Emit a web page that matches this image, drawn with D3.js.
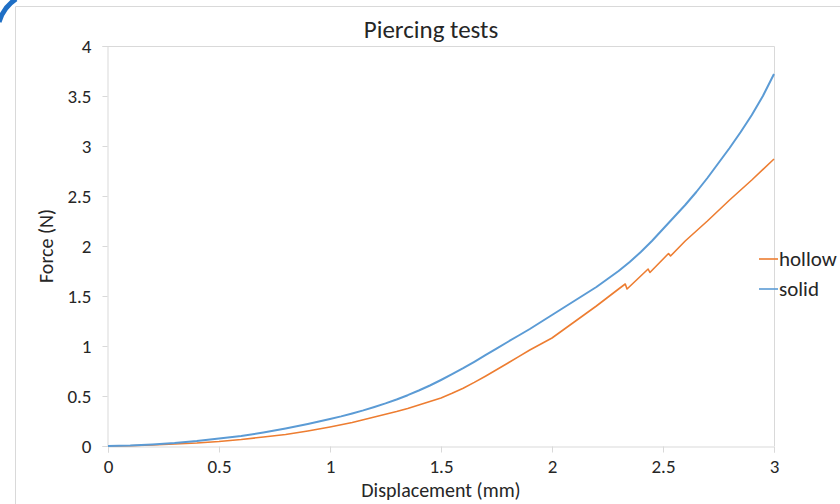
<!DOCTYPE html>
<html>
<head>
<meta charset="utf-8">
<script src="https://cdn.jsdelivr.net/npm/d3@7"></script>
<style>
  body { margin: 0; background: #fff; }
  svg { display: block; }
  text { font-family: Calibri, Carlito, "Open Sans", sans-serif; fill: #262626; }
</style>
</head>
<body>
<div id="viz"></div>
<script>
const LAYOUT = {
  width: 840,
  height: 504,
  margins: { left: 108, right: 66, top: 46, bottom: 58 }
}

const series_names = ['hollow', 'solid'];
const series_colors = { hollow: '#ED7D31', solid: '#5B9BD5' };

// displacement (mm), force (N)
const hollow_x = [0, 0.1, 0.2, 0.3, 0.4, 0.5, 0.6, 0.7, 0.8, 0.85, 0.9, 0.95, 1.0, 1.05, 1.1, 1.15, 1.2, 1.25,
                  1.3, 1.35, 1.4, 1.45, 1.5, 1.55, 1.6, 1.65, 1.7, 1.75, 1.8, 1.85, 1.9, 1.95, 2.0,
                  2.05, 2.1, 2.15, 2.2, 2.25, 2.3, 2.33, 2.338, 2.433, 2.441, 2.525, 2.534,
                  2.6, 2.7, 2.8, 2.9, 3.0];
const hollow_y = [0, 0.003, 0.01, 0.02, 0.03, 0.045, 0.065, 0.09, 0.115, 0.132, 0.15, 0.17, 0.19, 0.212, 0.235, 0.262, 0.29, 0.317,
                  0.345, 0.376, 0.41, 0.444, 0.48, 0.527, 0.578, 0.636, 0.698, 0.762, 0.828, 0.894, 0.96, 1.02, 1.08,
                  1.16, 1.24, 1.32, 1.40, 1.485, 1.57, 1.62, 1.57, 1.77, 1.735, 1.925, 1.90,
                  2.05, 2.25, 2.46, 2.66, 2.87];

const solid_x = [0, 0.1, 0.2, 0.3, 0.4, 0.5, 0.6, 0.7, 0.8, 0.85, 0.9, 0.95, 1.0, 1.05, 1.1, 1.15, 1.2, 1.25,
                 1.3, 1.35, 1.4, 1.45, 1.5, 1.55, 1.6, 1.65, 1.7, 1.75, 1.8, 1.85, 1.9, 1.95, 2.0,
                 2.05, 2.1, 2.15, 2.2, 2.25, 2.3, 2.35, 2.4, 2.45, 2.5, 2.55, 2.6, 2.65, 2.7, 2.75,
                 2.8, 2.85, 2.9, 2.95, 3.0];
const solid_y = [0, 0.005, 0.016, 0.03, 0.05, 0.075, 0.10, 0.135, 0.175, 0.197, 0.22, 0.244, 0.27, 0.296, 0.325, 0.356, 0.39, 0.426,
                 0.465, 0.508, 0.555, 0.605, 0.66, 0.718, 0.778, 0.842, 0.908, 0.974, 1.04, 1.105, 1.17, 1.24, 1.31,
                 1.38, 1.45, 1.52, 1.59, 1.67, 1.75, 1.84, 1.94, 2.05, 2.17, 2.29, 2.41, 2.54, 2.68, 2.83,
                 2.98, 3.14, 3.31, 3.50, 3.72];

const x_ticks = [0, 0.5, 1, 1.5, 2, 2.5, 3];
const y_ticks = [0, 0.5, 1, 1.5, 2, 2.5, 3, 3.5, 4];

const title = 'Piercing tests';
const x_title = 'Displacement (mm)';
const y_title = 'Force (N)';

const data = {
  hollow: hollow_x.map((x, i) => ({ x: x, y: hollow_y[i] })),
  solid: solid_x.map((x, i) => ({ x: x, y: solid_y[i] }))
};

const svg = d3.select('#viz').append('svg')
  .attr('width', LAYOUT.width)
  .attr('height', LAYOUT.height);

// outer chart frame
svg.append('path')
  .attr('d', `M15.5,${LAYOUT.height} V6.5 H${LAYOUT.width}`)
  .attr('fill', 'none')
  .attr('stroke', '#d9d9d9')
  .attr('stroke-width', 1);

// blue corner mark top-left
svg.append('path')
  .attr('d', 'M-1,22 A42,42 0 0 1 16,-1')
  .attr('fill', 'none')
  .attr('stroke', '#1f6fc5')
  .attr('stroke-width', 5);

const m = LAYOUT.margins;
const x = d3.scaleLinear().domain([0, 3]).range([m.left, LAYOUT.width - m.right]);
const y = d3.scaleLinear().domain([0, 4]).range([LAYOUT.height - m.bottom, m.top]);

// plot area border top / right
svg.append('path')
  .attr('d', `M${x(0)},${y(4) + 0.5} H${x(3) + 0.5} V${y(0)}`)
  .attr('fill', 'none')
  .attr('stroke', '#d9d9d9');

const xAxis = svg.append('g')
  .attr('transform', `translate(0,${y(0) + 0.5})`)
  .call(d3.axisBottom(x).tickValues(x_ticks).tickSize(6).tickPadding(7).tickFormat(d3.format('')));

const yAxis = svg.append('g')
  .attr('transform', `translate(${x(0) - 0.5},0)`)
  .call(d3.axisLeft(y).tickValues(y_ticks).tickSize(5).tickPadding(11).tickFormat(d3.format('')));

[xAxis, yAxis].forEach(g => {
  g.select('.domain').attr('stroke', '#d9d9d9');
  g.selectAll('.tick line').attr('stroke', '#d9d9d9');
  g.selectAll('.tick text')
    .attr('fill', '#262626')
    .style('font-size', '19px')
    .style('font-family', 'Calibri, Carlito, "Open Sans", sans-serif');
});

const line = d3.line()
  .x(d => x(d.x))
  .y(d => y(d.y));

series_names.forEach(name => {
  svg.append('path')
    .datum(data[name])
    .attr('fill', 'none')
    .attr('stroke', series_colors[name])
    .attr('stroke-width', name == 'solid' ? 2 : 1.6)
    .attr('stroke-linejoin', 'round')
    .attr('d', line);
});

// title and axis titles
svg.append('text')
  .attr('x', 431)
  .attr('y', 38)
  .attr('text-anchor', 'middle')
  .style('font-size', '25px')
  .text(title);

svg.append('text')
  .attr('x', (x(0) + x(3)) / 2)
  .attr('y', 497)
  .attr('text-anchor', 'middle')
  .style('font-size', '20px')
  .text(x_title);

svg.append('text')
  .attr('transform', `translate(53,${(y(0) + y(4)) / 2}) rotate(-90)`)
  .attr('text-anchor', 'middle')
  .style('font-size', '20px')
  .text(y_title);

// legend
const legend = svg.append('g').attr('transform', 'translate(759,259)');
series_names.forEach((name, i) => {
  const g = legend.append('g').attr('transform', `translate(0,${i * 30})`);
  g.append('line')
    .attr('x1', 0).attr('x2', 19)
    .attr('stroke', series_colors[name])
    .attr('stroke-width', 1.6);
  g.append('text')
    .attr('x', 20)
    .attr('dy', '0.35em')
    .style('font-size', '21px')
    .text(name);
});
</script>
</body>
</html>
